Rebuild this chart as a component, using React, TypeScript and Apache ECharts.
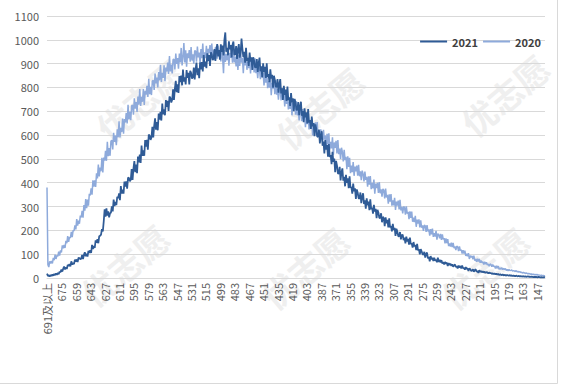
import React, { useEffect, useRef } from "react";
import * as echarts from "echarts";

const categories: string[] = ["691及以上", ...Array.from({ length: 553 }, (_, i) => String(690 - i))];
const seriesNames = ["2021", "2020"];
const yMin = 0;
const yMax = 1100;
const yStep = 100;

const scores2021 = [
  18, 9, 11, 6, 13, 8, 15, 10, 17, 12, 19, 13, 22, 16, 27,
  24, 36, 27, 39, 48, 36, 45, 38, 55, 50, 58, 49,
  70, 56, 64, 58, 77, 69, 78, 67, 85, 84, 79,
  81, 97, 80, 97, 108, 91, 102, 90, 114, 105, 116,
  105, 139, 122, 134, 126, 158, 148, 163, 146, 176, 177,
  182, 205, 196, 238, 288, 258, 292, 262, 280, 255, 272,
  274, 301, 280, 329, 302, 319, 306, 341, 335, 355, 327,
  386, 354, 371, 354, 405, 384, 406, 375, 422, 420, 406,
  412, 457, 412, 459, 491, 444, 476, 440, 510, 485, 518,
  483, 556, 513, 536, 513, 579, 552, 580, 539, 602, 598,
  580, 590, 635, 590, 638, 670, 623, 655, 620, 690, 665, 698,
  661, 732, 687, 708, 683, 747, 718, 744, 701, 762, 756,
  737, 748, 792, 748, 795, 828, 780, 813, 777, 848, 822,
  850, 809, 875, 825, 842, 813, 873, 840, 861, 813, 870,
  861, 837, 843, 883, 834, 876, 904, 852, 880, 839, 905,
  876, 906, 867, 936, 888, 908, 881, 943, 912, 936, 890,
  948, 938, 915, 921, 961, 911, 954, 982, 930, 957, 917,
  981, 949, 976, 934, 1000, 1031, 950, 966, 935, 994, 960,
  978, 926, 979, 993, 938, 939, 974, 920, 959, 982, 925,
  947, 1005, 962, 927, 950, 904, 966, 912, 924, 890, 946, 909,
  927, 874, 927, 912, 884, 885, 919, 865, 903, 925, 868,
  889, 842, 901, 864, 887, 840, 901, 845, 856, 822, 876,
  837, 853, 799, 849, 833, 803, 802, 835, 778, 814, 835,
  775, 796, 748, 807, 769, 791, 743, 804, 747, 758, 722,
  776, 738, 754, 700, 752, 736, 706, 706, 739, 684, 720,
  740, 681, 701, 654, 712, 675, 696, 649, 709, 653, 663,
  626, 678, 637, 651, 595, 645, 627, 595, 592, 623, 565,
  598, 616, 555, 573, 523, 579, 539, 558, 509, 562, 508,
  516, 478, 530, 488, 501, 444, 492, 473, 440, 437, 467, 410,
  443, 460, 409, 425, 385, 433, 400, 418, 377, 427, 379,
  382, 354, 396, 364, 376, 332, 372, 359, 335, 333, 359,
  314, 341, 356, 311, 326, 291, 334, 305, 321, 285, 330,
  289, 295, 270, 307, 279, 290, 251, 286, 275, 252, 251,
  272, 234, 257, 250, 218, 255, 230, 244, 212, 250, 212,
  218, 196, 227, 202, 211, 177, 207, 196, 176, 175, 193,
  162, 180, 182, 159, 169, 145, 174, 154, 164, 140, 170,
  142, 145, 128, 151, 133, 138, 117, 143, 116, 120, 99,
  121, 112, 100, 98, 110, 86, 100, 107, 82, 89, 70, 92,
  79, 85, 71, 85, 73, 77, 66, 85, 68, 76, 65,
  75, 61, 67, 57, 67, 61, 64, 50, 63, 54, 60,
  51, 57, 47, 53, 57, 46, 50, 40, 52, 44, 50,
  40, 52, 41, 43, 35, 46, 38, 41, 30, 40, 37,
  30, 31, 37, 26, 33, 37, 26, 30, 21, 33, 26,
  29, 24, 28, 23, 26, 21, 25, 24, 19, 23, 20,
  21, 17, 20, 16, 19, 15, 18, 14, 17, 13, 15,
  14, 12, 15, 11, 13, 12, 10, 13, 11, 10, 12,
  9, 11, 8, 10, 9, 7, 10, 8, 7, 9, 6, 8,
  7, 6, 8, 5, 7, 6, 5, 7, 5, 6, 4,
  6, 5, 4, 5, 3, 5, 4, 3, 5, 4, 3,
  4, 3, 3, 4, 2,
];

const scores2020 = [
  380, 56, 46, 70, 61, 71, 61, 84, 75, 98, 80, 95, 91, 111, 94,
  116, 107, 137, 125, 139, 126, 156, 146, 176, 152, 172, 168, 194, 172, 200,
  198, 221, 204, 247, 220, 241, 228, 262, 254, 282, 253,
  306, 283, 331, 293, 329, 304, 353, 347,
  376, 350, 410, 384, 410, 382, 440, 418, 476, 426, 464,
  448, 505, 443, 506, 493, 534, 492, 572, 511, 545, 513,
  574, 579, 540, 610, 571, 598, 558, 624, 591, 658, 590,
  631, 613, 669, 606, 667, 653, 693, 649, 727, 666, 698,
  663, 723, 726, 686, 754, 711, 739, 697, 762, 728, 793,
  722, 761, 740, 793, 727, 786, 770, 807, 760, 836, 772,
  803, 768, 827, 830, 790, 858, 817, 842, 800, 865, 830, 895,
  823, 861, 840, 893, 826, 884, 867, 904, 857, 932, 867,
  896, 859, 917, 918, 876, 942, 899, 923, 879, 942, 905,
  966, 892, 928, 986, 905, 956, 887, 943, 923, 957, 908,
  970, 913, 939, 900, 954, 953, 908, 972, 926, 947, 900,
  961, 923, 984, 911, 947, 923, 975, 906, 962, 944, 978,
  928, 984, 931, 956, 916, 969, 967, 921, 976, 937, 957,
  909, 967, 926, 860, 958, 907, 940, 914, 963, 891, 945,
  924, 955, 904, 964, 905, 930, 888, 941, 873, 936, 890,
  952, 904, 923, 860, 933, 892, 940, 874, 908, 881, 930, 859,
  911, 888, 917, 863, 922, 860, 882, 839, 889, 874, 835,
  886, 844, 860, 808, 864, 820, 866, 797, 828, 799, 845,
  767, 819, 795, 825, 772, 831, 770, 793, 749, 800, 785,
  746, 797, 755, 771, 720, 776, 731, 777, 708, 739, 710,
  756, 683, 734, 710, 740, 686, 742, 683, 705, 662, 712,
  696, 658, 709, 667, 684, 633, 689, 646, 692, 624, 655,
  626, 672, 598, 649, 625, 654, 599, 655, 595, 617, 573,
  624, 609, 570, 622, 581, 598, 548, 605, 561, 608, 540,
  572, 544, 591, 518, 569, 546, 576, 523, 579, 520, 543, 500,
  547, 529, 489, 538, 495, 509, 457, 511, 466, 505, 440,
  472, 444, 487, 429, 468, 448, 472, 430, 475, 427, 448,
  411, 451, 437, 405, 447, 412, 425, 383, 427, 392, 428,
  373, 399, 376, 413, 354, 396, 377, 400, 357, 403, 356,
  372, 341, 374, 369, 334, 375, 338, 349, 312, 351, 320,
  352, 304, 326, 305, 337, 286, 321, 304, 325, 288, 328,
  284, 299, 271, 300, 296, 266, 301, 270, 278, 247, 280,
  252, 279, 236, 253, 235, 261, 215, 245, 229, 246, 212,
  242, 211, 221, 198, 222, 219, 194, 222, 196, 204, 178, 205,
  183, 207, 173, 188, 174, 198, 161, 186, 181, 167, 185,
  160, 183, 162, 167, 145, 166, 146, 163, 134, 145, 132,
  148, 130, 147, 125, 133, 117, 134, 131, 113, 133, 115,
  119, 103, 117, 103, 115, 93, 102, 91, 104, 80, 94,
  87, 93, 79, 94, 73, 80, 68, 81, 69, 80, 64,
  73, 64, 68, 57, 68, 58, 66, 54, 59, 50, 59,
  56, 47, 57, 48, 50, 40, 51, 41, 50, 36, 42,
  37, 43, 35, 40, 36, 40, 32, 36, 30, 36, 31,
  32, 34, 29, 31, 30, 27, 31, 26, 28, 25, 27, 23,
  24, 21, 23, 22, 19, 21, 20, 17, 19, 18, 16,
  17, 15, 16, 14, 15, 13, 15, 12, 13, 12, 11,
  12, 10, 11, 10, 9,
];

const watermarkText = "优志愿";
const watermarkSpots = [
  [140, 100],
  [320, 108],
  [505, 95],
  [125, 265],
  [305, 268],
  [485, 268],
];

export default function App() {
  const ref = useRef<HTMLDivElement>(null);
  useEffect(() => {
    const chart = echarts.init(ref.current!, null, { renderer: "svg" });
    const font = "'Noto Sans CJK SC', 'Noto Sans', sans-serif";
    chart.setOption({
      animation: false,
      backgroundColor: "#ffffff",
      textStyle: { fontFamily: font },
      grid: { left: 47, right: 18, top: 16, bottom: 109 },
      legend: {
        data: seriesNames,
        right: 17,
        top: 31,
        icon: "rect",
        itemWidth: 27,
        itemHeight: 2,
        itemGap: 5,
        textStyle: { fontSize: 11, fontWeight: "bold", color: "#404040", fontFamily: font },
      },
      graphic: [
        ...watermarkSpots.map(([x, y]) => ({
          type: "text",
          x,
          y,
          rotation: 0.7,
          silent: true,
          z: 0,
          style: {
            text: watermarkText,
            fontSize: 34,
            fontWeight: "bold",
            fontFamily: font,
            fill: "#efefef",
            align: "center",
            verticalAlign: "middle",
          },
        })),
        {
          type: "line",
          silent: true,
          shape: { x1: 557.5, y1: 0, x2: 557.5, y2: 383.5 },
          style: { stroke: "#d9d9d9", lineWidth: 1 },
        },
        {
          type: "line",
          silent: true,
          shape: { x1: 0, y1: 383.5, x2: 557.5, y2: 383.5 },
          style: { stroke: "#d9d9d9", lineWidth: 1 },
        },
      ],
      xAxis: {
        type: "category",
        data: categories,
        boundaryGap: false,
        axisLine: { lineStyle: { color: "#d9d9d9" } },
        axisTick: { show: false },
        axisLabel: { interval: 15, rotate: 90, fontSize: 11, color: "#595959", margin: 5, fontFamily: font },
        splitLine: { show: false },
      },
      yAxis: {
        type: "value",
        min: yMin,
        max: yMax,
        interval: yStep,
        axisLine: { show: false },
        axisTick: { show: false },
        axisLabel: {
          fontSize: 11,
          color: "#595959",
          margin: 8,
          fontFamily: font,
          formatter: (v: number) => String(v),
        },
        splitLine: { lineStyle: { color: "#d9d9d9" } },
      },
      series: [
        {
          name: seriesNames[0],
          type: "line",
          data: scores2021,
          symbol: "none",
          showSymbol: false,
          z: 3,
          lineStyle: { width: 1.75, color: "#2f5b96" },
          itemStyle: { color: "#2f5b96" },
        },
        {
          name: seriesNames[1],
          type: "line",
          data: scores2020,
          symbol: "none",
          showSymbol: false,
          z: 2,
          lineStyle: { width: 1.5, color: "#8eaadb" },
          itemStyle: { color: "#8eaadb" },
        },
      ],
    });
    return () => chart.dispose();
  }, []);
  return (
    <div
      ref={ref}
      style={{ position: "fixed", left: 0, top: 0, width: 563, height: 387, background: "#fff" }}
    />
  );
}
